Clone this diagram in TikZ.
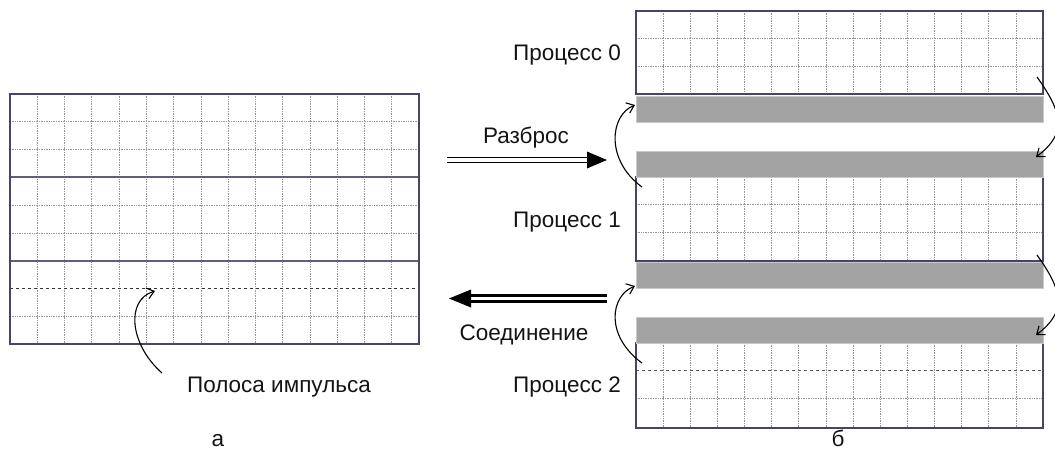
\documentclass[tikz,border=0pt]{standalone}
\usepackage{fontspec}
\setmainfont{Liberation Sans}
\usetikzlibrary{arrows.meta}
\definecolor{framec}{RGB}{70,70,100}
\definecolor{thickc}{RGB}{95,95,125}
\definecolor{gridc}{RGB}{150,150,150}
\definecolor{bandc}{RGB}{163,163,163}
\definecolor{bandedge}{RGB}{200,200,200}
\definecolor{txtc}{RGB}{20,20,20}
\begin{document}
\begin{tikzpicture}[x=1pt,y=-1pt,
  frame/.style={draw=framec,line width=1.2pt},
  gridline/.style={draw=gridc,line width=0.7pt,densely dotted},
  sepline/.style={draw=thickc,line width=2.2pt},
  dashline/.style={draw=black!80,line width=0.9pt,dash pattern=on 3pt off 3pt},
  band/.style={fill=bandc,draw=bandedge,line width=0.8pt,minimum width=407pt,minimum height=26pt,inner sep=0pt,anchor=north west},
  lbl/.style={font=\fontsize{22.5}{27}\selectfont,text=txtc,inner sep=0pt},
  curv/.style={draw=black,line width=1.1pt,-{Straight Barb[length=7pt,width=11pt,line width=1.1pt]}}]
\useasboundingbox (0,0) rectangle (1055,450);
\clip (0,0) rectangle (1055,450);
% ---------- left grid (a)
\foreach \i in {1,...,14} \draw[gridline] ({10+\i*409/15},94) -- ({10+\i*409/15},344);
\foreach \k in {1,2,4,5,8} \draw[gridline] (10,{94+\k*250/9}) -- (419,{94+\k*250/9});
\draw[sepline] (10,{94+3*250/9}) -- (419,{94+3*250/9});
\draw[sepline] (10,{94+6*250/9}) -- (419,{94+6*250/9});
\draw[dashline] (10,{94+7*250/9}) -- (419,{94+7*250/9});
\draw[frame] (10,94) rectangle (419,344);
% ---------- right grid (b)
\def\rh{27.8}
\foreach \y in {11,177,343}{
  \foreach \i in {1,...,14} \draw[gridline] ({636+\i*407/15},\y) -- ({636+\i*407/15},{\y+3*\rh});
}
\foreach \y in {11,177} {
  \draw[gridline] (636,{\y+\rh}) -- (1043,{\y+\rh});
  \draw[gridline] (636,{\y+2*\rh}) -- (1043,{\y+2*\rh});
}
\draw[dashline,draw=black!65] (636,{343+\rh}) -- (1043,{343+\rh});
\draw[gridline] (636,{343+2*\rh}) -- (1043,{343+2*\rh});
\draw[frame] (636,11) rectangle (1043,94);
\draw[frame] (636,177) rectangle (1043,261);
\draw[frame] (636,343) rectangle (1043,428);
\node[band] (b1) at (636,96) {};
\node[band] (b2) at (636,151) {};
\node[band] (b3) at (636,262) {};
\node[band] (b4) at (636,317) {};
% ---------- labels
\node[lbl,anchor=east] (p0) at (621,55) {Процесс 0};
\node[lbl,anchor=east] (p1) at (621,222) {Процесс 1};
\node[lbl,anchor=east] (p2) at (621,387) {Процесс 2};
\node[lbl] (scat) at (526,138) {Разброс};
\node[lbl] (gath) at (524,335) {Соединение};
\node[lbl] (pol) at (279,387) {Полоса импульса};
\node[lbl,anchor=base] (la) at (218,446) {а};
\node[lbl,anchor=base] (lb) at (838,446) {б};
% ---------- double arrows
\coordinate (s1) at (447,160);
\coordinate (t1) at (607,160);
\draw[black,line width=1.3pt] ([yshift=-2.3pt]s1) -- ([xshift=-15pt,yshift=-2.3pt]t1);
\draw[black,line width=1.3pt] ([yshift=2.3pt]s1) -- ([xshift=-15pt,yshift=2.3pt]t1);
\fill[black] (t1) -- ([xshift=-20pt,yshift=-8.5pt]t1) -- ([xshift=-20pt,yshift=8.5pt]t1) -- cycle;
\coordinate (s2) at (607,298.5);
\coordinate (t2) at (449,298.5);
\draw[black,line width=2.4pt] ([yshift=-3pt]s2) -- ([xshift=15pt,yshift=-3pt]t2);
\draw[black,line width=2.4pt] ([yshift=3pt]s2) -- ([xshift=15pt,yshift=3pt]t2);
\fill[black] (t2) -- ([xshift=22pt,yshift=-9pt]t2) -- ([xshift=22pt,yshift=9pt]t2) -- cycle;
% ---------- curved arrows
\coordinate (c1s) at (162,373);
\coordinate (c1e) at (155,291);
\draw[curv] (c1s) .. controls (130,345) and (125,300) .. (c1e);
\coordinate (c2s) at (642,187);
\coordinate (c2e) at (635,105);
\draw[curv] (c2s) .. controls (605,160) and (610,115) .. (c2e);
\coordinate (c3s) at (642,363);
\coordinate (c3e) at (635,286);
\draw[curv] (c3s) .. controls (605,336) and (610,296) .. (c3e);
\coordinate (c4s) at (1037,77);
\coordinate (c4e) at (1036,157);
\draw[curv] (c4s) .. controls (1062,112) and (1068,133) .. (c4e);
\coordinate (c5s) at (1037,255);
\coordinate (c5e) at (1036,335);
\draw[curv] (c5s) .. controls (1062,290) and (1068,311) .. (c5e);
\end{tikzpicture}
\end{document}
